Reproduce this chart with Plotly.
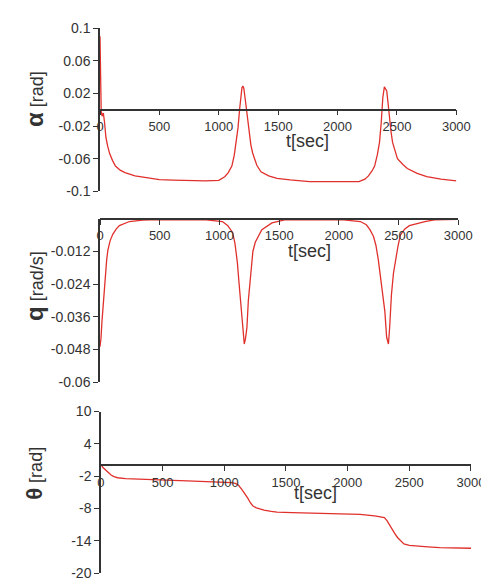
import plotly.graph_objects as go

# ---------------- data ----------------
alpha_t = [0, 3, 6, 10, 18, 28, 38, 50, 65, 82, 105, 130, 170, 210, 295, 337, 420, 500,
           615, 750, 890, 1000, 1050, 1080, 1110, 1130, 1148, 1162, 1175, 1185, 1195, 1203,
           1211, 1225, 1244, 1258, 1270, 1285, 1320, 1355, 1420, 1490, 1600, 1765, 2000,
           2180, 2230, 2260, 2290, 2312, 2335, 2353, 2368, 2381, 2394, 2404, 2414, 2425,
           2436, 2450, 2463, 2485, 2504, 2550, 2587, 2670, 2751, 2870, 3000]
alpha_v = [0.09, 0.06, 0.02, -0.002, -0.008, -0.004, -0.015, -0.034, -0.045, -0.054,
           -0.062, -0.069, -0.074, -0.077, -0.081, -0.082, -0.084, -0.0855, -0.0862, -0.087,
           -0.0872, -0.0865, -0.082, -0.077, -0.069, -0.056, -0.04, -0.022, 0.0, 0.016,
           0.027, 0.029, 0.026, 0.01, -0.013, -0.032, -0.043, -0.053, -0.068, -0.076,
           -0.081, -0.084, -0.086, -0.088, -0.088, -0.088, -0.085, -0.081, -0.075, -0.069,
           -0.055, -0.04, -0.015, 0.015, 0.028, 0.026, 0.023, 0.008, -0.009, -0.027, -0.04,
           -0.052, -0.06, -0.067, -0.072, -0.078, -0.082, -0.085, -0.087]

q_t = [0, 8, 16, 25, 35, 47, 56, 66, 85, 107, 135, 162, 205, 247, 355, 500, 890, 1025,
       1070, 1110, 1130, 1150, 1163, 1175, 1188, 1197, 1208, 1218, 1230, 1242, 1250, 1265,
       1280, 1300, 1355, 1440, 1545, 2040, 2180, 2230, 2260, 2290, 2310, 2330, 2350, 2368,
       2385, 2400, 2415, 2425, 2440, 2457, 2475, 2495, 2515, 2550, 2590, 2720, 2800, 3000]
q_v = [-0.047, -0.044, -0.038, -0.032, -0.026, -0.020, -0.015, -0.0115, -0.008, -0.0057,
       -0.0038, -0.0025, -0.0016, -0.001, -0.0005, -0.0003, -0.0004, -0.001, -0.0025,
       -0.005, -0.009, -0.016, -0.023, -0.030, -0.038, -0.043, -0.046, -0.044, -0.040,
       -0.030, -0.026, -0.018, -0.012, -0.0086, -0.004, -0.0015, -0.0004, -0.0004, -0.001,
       -0.0022, -0.004, -0.0065, -0.0097, -0.015, -0.022, -0.028, -0.034, -0.0435, -0.046,
       -0.040, -0.028, -0.020, -0.015, -0.010, -0.006, -0.0038, -0.0025, -0.001, -0.0004,
       -0.0002]

theta_t = [0, 8, 16, 30, 42, 60, 82, 105, 135, 200, 319, 450, 583, 700, 847, 1000, 1058,
           1090, 1115, 1140, 1165, 1190, 1210, 1230, 1260, 1290, 1322, 1380, 1427, 1550,
           1691, 1955, 2100, 2219, 2270, 2298, 2320, 2351, 2380, 2404, 2430, 2456, 2500,
           2562, 2650, 2746, 2870, 3000]
theta_v = [0.0, -0.1, -0.4, -0.7, -0.9, -1.3, -1.8, -2.1, -2.3, -2.45, -2.6, -2.7, -2.8,
           -2.9, -3.0, -3.1, -3.2, -3.35, -3.7, -4.4, -5.2, -6.1, -6.9, -7.5, -7.9, -8.1,
           -8.3, -8.55, -8.7, -8.8, -8.9, -9.0, -9.1, -9.4, -9.55, -9.7, -10.3, -11.6,
           -12.6, -13.4, -14.1, -14.6, -14.85, -15.0, -15.15, -15.3, -15.35, -15.4]

x_ticks = [0, 500, 1000, 1500, 2000, 2500, 3000]
x_ticktext = ["0", "500", "1000", "1500", "2000", "2500", "3000"]

alpha_ticks = [0.1, 0.06, 0.02, -0.02, -0.06, -0.1]
alpha_ticktext = ["0.1", "0.06", "0.02", "-0.02", "-0.06", "-0.1"]
q_ticks = [-0.012, -0.024, -0.036, -0.048, -0.06]
q_ticktext = ["-0.012", "-0.024", "-0.036", "-0.048", "-0.06"]
theta_ticks = [10, 4, -2, -8, -14, -20]
theta_ticktext = ["10", "4", "-2", "-8", "-14", "-20"]

x_range = [0, 3000]
alpha_range = [-0.1, 0.1]
q_range = [-0.06, 0.0]
theta_range = [-20, 10]

# ---------------- layout geometry ----------------
W, H = 489, 585
ML, MR, MT, MB = 92, 17, 16, 12
PW = W - ML - MR
PH = H - MT - MB


def px_x(x):
    return (x - ML) / PW


def px_y(y):
    return (H - MB - y) / PH


panels = [
    # (x-domain pixel, y-domain pixel top/bottom)
    ((92, 457), (16, 183)),
    ((92, 459), (211, 378)),
    ((93, 472), (408, 573)),
]

RED = "#e0302c"
AX = "#333333"
TXT = "#333333"
FONT = "Liberation Sans, Arial, sans-serif"

fig = go.Figure()
series = [(alpha_t, alpha_v), (q_t, q_v), (theta_t, theta_v)]
yinfo = [(alpha_range, alpha_ticks, alpha_ticktext),
         (q_range, q_ticks, q_ticktext),
         (theta_range, theta_ticks, theta_ticktext)]

layout = dict(
    width=W, height=H,
    margin=dict(l=ML, r=MR, t=MT, b=MB),
    paper_bgcolor="white", plot_bgcolor="white",
    showlegend=False,
    font=dict(family=FONT, color=TXT),
)

for i, ((xs, ys), ((x0, x1), (yt, yb)), (yr, yt_vals, yt_text)) in enumerate(
        zip(series, panels, yinfo)):
    n = "" if i == 0 else str(i + 1)
    fig.add_trace(go.Scatter(x=xs, y=ys, mode="lines",
                             line=dict(color=RED, width=1.3),
                             xaxis="x" + n, yaxis="y" + n, hoverinfo="skip"))
    ydom = [px_y(yb), px_y(yt)]
    # position of the x axis at value zero of the y axis
    pos = ydom[0] + (0 - yr[0]) / (yr[1] - yr[0]) * (ydom[1] - ydom[0])
    layout["xaxis" + n] = dict(
        domain=[px_x(x0), px_x(x1)], range=x_range, anchor="free", position=pos,
        showgrid=False, zeroline=False, showline=True, linecolor=AX, linewidth=1.5,
        ticks="outside", ticklen=5, tickwidth=1.3, tickcolor=AX,
        tickvals=x_ticks, ticktext=x_ticktext,
        tickfont=dict(size=13, color=TXT, family=FONT),
    )
    layout["yaxis" + n] = dict(
        domain=ydom, range=yr, anchor="x" + n,
        showgrid=False, zeroline=False, showline=True, linecolor=AX, linewidth=1.5,
        ticks="outside", ticklen=5, tickwidth=1.3, tickcolor=AX,
        tickvals=yt_vals, ticktext=yt_text,
        tickfont=dict(size=14, color=TXT, family=FONT),
    )

fig.update_layout(**layout)

# axis titles
ytitles = [
    ("<b><span style='font-size:24px'>α</span></b> [rad]", 89),
    ("<b><span style='font-size:24px'>q</span></b> [rad/s]", 280),
    ("<b><span style='font-size:22px'>θ</span></b> [rad]", 471),
]
for txt, yc in ytitles:
    fig.add_annotation(text=txt, xref="paper", yref="paper",
                       x=px_x(25), y=px_y(yc), showarrow=False, textangle=-90,
                       xanchor="center", yanchor="middle",
                       font=dict(size=18, color=TXT, family=FONT))

xtitles = [(305, 131), (307, 244), (313, 491)]
for xc, yc in xtitles:
    fig.add_annotation(text="t[sec]", xref="paper", yref="paper",
                       x=px_x(xc), y=px_y(yc), showarrow=False,
                       xanchor="center", yanchor="middle",
                       font=dict(size=18, color=TXT, family=FONT))

fig.write_html("out.html")
